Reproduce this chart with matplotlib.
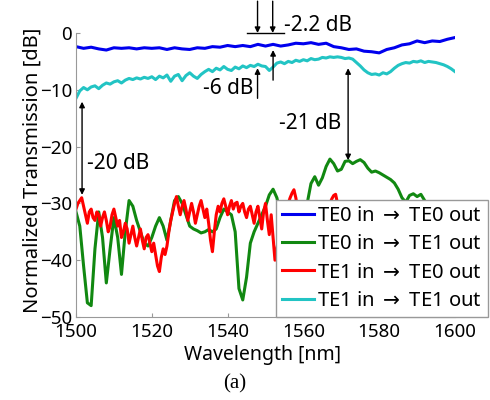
import numpy as np
import matplotlib.pyplot as plt

# measured transmission spectra, dB
wl_te00 = np.arange(1500, 1601, 2)
te0_te0 = [-2.4, -2.7, -2.5, -2.8, -3.0, -2.6, -2.7, -2.6, -2.8, -2.6,
           -2.7, -2.6, -2.9, -2.6, -2.8, -2.9, -2.6, -2.7, -2.4, -2.5,
           -2.2, -2.4, -2.2, -2.4, -2.0, -2.3, -2.0, -2.3, -2.1, -1.8,
           -1.9, -1.7, -2.0, -1.8, -2.4, -2.6, -2.9, -2.8, -3.2, -3.3,
           -3.5, -2.9, -2.6, -2.1, -1.9, -1.4, -1.7, -1.4, -1.5, -1.1,
           -0.8]

wl_te01 = np.arange(1500, 1601, 1)
te0_te1 = [-31.5, -34, -41, -47.5, -48, -38, -31.5, -36, -44, -38,
           -32.5, -36, -42.5, -35, -29.5, -30.5, -33, -35, -37, -37.5,
           -36, -34, -32.5, -34, -36.5, -33, -29.5, -28.8, -30, -32,
           -34, -34.5, -34.8, -35.2, -35, -34.6, -35, -34.5, -32.5, -31,
           -31.5, -32, -35, -45, -47, -43, -37, -35, -33.5, -32,
           -30.5, -28.5, -27.5, -29, -32, -34, -34.5, -33, -32.5, -33,
           -32, -30, -26.5, -25.3, -26.8, -25.5, -23.5, -22.2, -23, -24.3,
           -24, -22.6, -22.5, -23, -22.6, -22.3, -22.8, -23.8, -24.5, -24.3,
           -24.6, -25, -25.4, -25.8, -26.4, -27.5, -29, -29.8, -28.6, -28.3,
           -28.8, -28.4, -29.5, -31, -32, -33, -34, -35, -35.5, -36,
           -36]

wl_te10 = np.arange(1500, 1590.5, 0.5)
te1_te0 = [-31, -30, -29.5, -29, -30.5, -32, -33.5, -31.5, -31, -32.5,
           -33, -31.5, -32, -34, -32.5, -31.5, -33, -35, -34, -32,
           -31, -32.5, -34, -33, -36, -35, -33.5, -34.5, -37, -35.5,
           -34, -36, -37.5, -36, -34.5, -36.5, -38, -36, -35.5, -37,
           -38.5, -37, -39, -41, -42, -39.5, -38, -39, -37.5, -35,
           -33, -31.5, -30, -28.8, -30.5, -32, -30.5, -29.5, -31, -33,
           -31.5, -30, -31.5, -33.5, -32, -30.5, -29.5, -31, -32.5, -31,
           -33.5, -36.5, -38.5, -35, -32, -30.5, -31.5, -30, -29.2, -30.5,
           -32, -30.5, -29.5, -31, -30, -29.8, -31.5, -30.5, -30, -31.5,
           -32.5, -31, -30.5, -32, -33.5, -31.5, -30.5, -32.5, -34.5, -31.5,
           -30, -33, -35.5, -32, -36, -40, -38, -36, -34, -33,
           -32, -31, -30, -29, -28.2, -27.6, -29, -31, -33, -34,
           -35, -34, -35.5, -34, -33, -34.5, -36, -35, -33.5, -34,
           -35.5, -34, -32.5, -31, -30, -29.2, -28.6, -28.4, -30, -32,
           -34, -35, -36.5, -35, -34, -36, -37.5, -36, -35, -36.5,
           -38, -37, -36, -35.5, -37, -38.5, -37.5, -36, -37, -38,
           -36.5, -35.5, -37, -38.5, -37, -36, -35, -36.5, -38, -37,
           -36, -37.5, -39, -38, -36.5, -35.5, -37, -38.5, -37, -36,
           -35]

wl_te11 = np.arange(1500, 1601, 1)
te1_te1 = [-11.5, -10.2, -9.6, -10.0, -9.5, -9.3, -9.8, -9.2, -8.8, -9.0,
           -8.6, -8.4, -8.8, -8.3, -8.0, -8.2, -7.9, -8.1, -7.8, -8.0,
           -7.7, -8.2, -7.6, -7.9, -7.4, -8.5, -7.6, -7.3, -8.4, -7.5,
           -7.0, -7.6, -8.0, -7.3, -6.8, -6.4, -6.8, -6.2, -6.5, -5.9,
           -6.4, -6.6, -6.0, -6.3, -5.8, -6.1, -5.7, -5.9, -5.5, -5.8,
           -5.9, -6.6, -6.0, -5.3, -5.1, -5.4, -5.0, -5.2, -4.8, -5.0,
           -4.7, -4.9, -4.5, -4.7, -4.6, -4.3, -4.4, -4.2, -4.3, -4.2,
           -4.3, -4.5, -4.4, -4.6, -5.2, -5.8, -6.5, -7.0, -7.3, -7.2,
           -7.4, -7.0, -7.2, -6.8, -6.2, -5.7, -5.4, -5.2, -5.3, -5.0,
           -5.1, -4.9, -5.2, -5.0, -5.1, -5.2, -5.4, -5.6, -5.9, -6.3,
           -6.8]

labels = ['TE0 in $\\rightarrow$ TE0 out', 'TE0 in $\\rightarrow$ TE1 out',
          'TE1 in $\\rightarrow$ TE0 out', 'TE1 in $\\rightarrow$ TE1 out']
colors = ['#0000ee', '#118811', '#ff0000', '#22c4c4']

plt.rcParams['font.family'] = ['Noto Sans', 'DejaVu Sans']
plt.rcParams['mathtext.fontset'] = 'dejavusans'

fig = plt.figure(figsize=(4.9, 4.0), dpi=100)
ax = fig.add_axes([76 / 490, 0.2075, 379 / 490, 0.71])

lw = 2.2
ax.plot(wl_te00, te0_te0, color=colors[0], lw=lw, label=labels[0])
ax.plot(wl_te01, te0_te1, color=colors[1], lw=lw, label=labels[1])
ax.plot(wl_te10, te1_te0, color=colors[2], lw=lw, label=labels[2])
ax.plot(wl_te11, te1_te1, color=colors[3], lw=lw, label=labels[3])

ax.set_xlim(1500, 1600)
ax.set_ylim(-50, 0)
ax.set_xticks(np.arange(1500, 1601, 20))
ax.set_yticks(np.arange(-50, 1, 10))
for s in ['top', 'right']:
    ax.spines[s].set_visible(False)
for s in ['left', 'bottom']:
    ax.spines[s].set_color('#999999')
ax.tick_params(direction='in', length=3, color='#999999', labelsize=13.5)
ax.tick_params(axis='x', pad=4)
ax.tick_params(axis='y', pad=3)
ax.set_xlabel('Wavelength [nm]', fontsize=14)
ax.set_ylabel('Normalized Transmission [dB]', fontsize=14.5)
ax.xaxis.set_label_coords(0.492, -0.097)
ax.yaxis.set_label_coords(-0.088, 0.515)

leg = ax.legend(loc='lower right', bbox_to_anchor=(0.996, 0.2075),
                bbox_transform=fig.transFigure, borderaxespad=0,
                fontsize=14.5, handlelength=1.6, handletextpad=0.15,
                labelspacing=0.42, borderpad=0.3, fancybox=False,
                framealpha=1, edgecolor='#999999')
leg.get_frame().set_linewidth(1.0)

# annotations
arr = dict(arrowstyle='-|>', color='k', lw=1, mutation_scale=8,
           shrinkA=0, shrinkB=0)
dbl = dict(arrowstyle='<|-|>', color='k', lw=1, mutation_scale=8,
           shrinkA=0, shrinkB=0)
ax.plot([1545.2, 1554.8], [0, 0], color='k', lw=1, clip_on=False)
for x in [1547.9, 1551.9]:
    ax.annotate('', xy=(x, 0), xytext=(x, 5.6), arrowprops=arr,
                annotation_clip=False)
ax.annotate('', xy=(1552.0, -3.0), xytext=(1552.0, -8.3), arrowprops=arr)
ax.text(1555.0, 1.4, '-2.2 dB', fontsize=15, va='center', ha='left')

ax.annotate('', xy=(1547.9, -6.2), xytext=(1547.9, -11.5), arrowprops=arr)
ax.text(1546.8, -9.7, '-6 dB', fontsize=15, va='center', ha='right')

ax.annotate('', xy=(1571.8, -22.4), xytext=(1571.8, -6.2), arrowprops=dbl)
ax.text(1570.0, -15.9, '-21 dB', fontsize=15, va='center', ha='right')

ax.annotate('', xy=(1501.6, -28.5), xytext=(1501.6, -12.1), arrowprops=dbl)
ax.text(1503.0, -22.9, '-20 dB', fontsize=15, va='center', ha='left')

fig.text(235 / 490, 1 - 384 / 400, '(a)', fontsize=15, ha='center',
         va='center', family='Liberation Serif')

fig.savefig('out.png', dpi=100)
